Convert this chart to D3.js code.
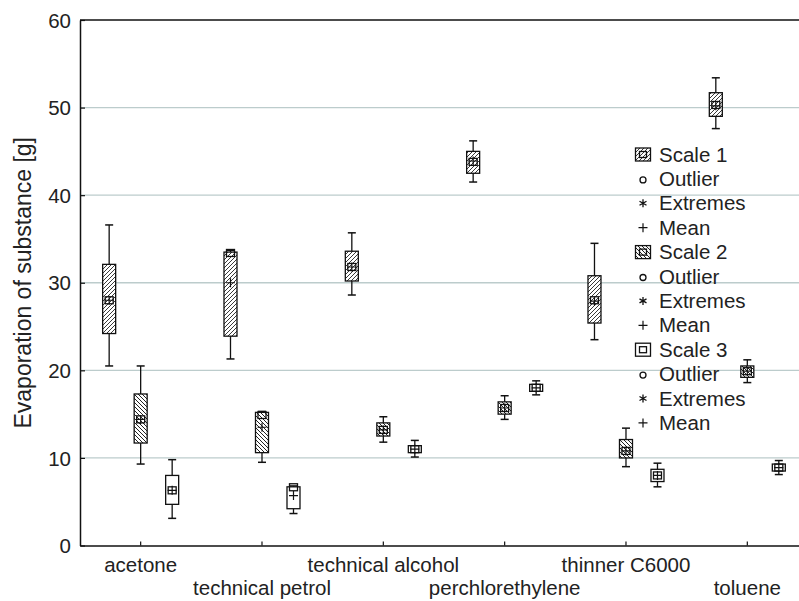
<!DOCTYPE html>
<html><head><meta charset="utf-8">
<script src="https://cdn.jsdelivr.net/npm/d3@7"></script>
<style>
body{margin:0;background:#fff;}
text{font-family:"Liberation Sans",Arial,sans-serif;}
</style></head>
<body><svg id="chart" width="799" height="601"></svg>
<script>
const categories = ["acetone","technical petrol","technical alcohol","perchlorethylene","thinner C6000","toluene"];
const series = ["Scale 1","Scale 2","Scale 3"];
const yTicks = [0,10,20,30,40,50,60];

const scale1Low    = [20.5, 21.3, 28.6, 41.5, 23.5, 47.6];
const scale1Q1     = [24.2, 23.9, 30.2, 42.5, 25.4, 49.0];
const scale1Q3     = [32.1, 33.5, 33.6, 45.0, 30.8, 51.7];
const scale1High   = [36.6, 33.7, 35.7, 46.2, 34.5, 53.4];
const scale1Median = [28.0, 33.4, 31.8, 43.8, 28.0, 50.3];
const scale1Mean   = [28.0, 30.0, 31.8, 43.9, 27.9, 50.2];

const scale2Low    = [9.3, 9.5, 11.8, 14.4, 9.0, 18.6];
const scale2Q1     = [11.7, 10.6, 12.5, 15.0, 10.0, 19.2];
const scale2Q3     = [17.3, 15.2, 14.0, 16.4, 12.1, 20.5];
const scale2High   = [20.5, 15.3, 14.7, 17.1, 13.4, 21.2];
const scale2Median = [14.4, 14.9, 13.2, 15.7, 10.8, 19.9];
const scale2Mean   = [14.4, 13.5, 13.2, 15.7, 10.8, 19.9];

const scale3Low    = [3.1, 3.65, 10.1, 17.2, 6.7, 8.1];
const scale3Q1     = [4.7, 4.2, 10.6, 17.6, 7.3, 8.5];
const scale3Q3     = [8.0, 6.7, 11.4, 18.4, 8.7, 9.3];
const scale3High   = [9.8, 6.8, 12.0, 18.8, 9.4, 9.7];
const scale3Median = [6.3, 6.65, 11.0, 18.0, 8.0, 8.9];
const scale3Mean   = [6.3, 5.7, 11.0, 18.0, 8.0, 8.9];

const legendItems = ["Scale 1","Outlier","Extremes","Mean","Scale 2","Outlier","Extremes","Mean","Scale 3","Outlier","Extremes","Mean"];
const legendKinds = ["box1","outlier","extreme","mean","box2","outlier","extreme","mean","box3","outlier","extreme","mean"];

const seriesStats = [
  {low:scale1Low,q1:scale1Q1,q3:scale1Q3,high:scale1High,median:scale1Median,mean:scale1Mean,fill:"url(#hatch1)"},
  {low:scale2Low,q1:scale2Q1,q3:scale2Q3,high:scale2High,median:scale2Median,mean:scale2Mean,fill:"url(#hatch2)"},
  {low:scale3Low,q1:scale3Q1,q3:scale3Q3,high:scale3High,median:scale3Median,mean:scale3Mean,fill:"#fff"}
];

const svg = d3.select("#chart");
const plotLeft = 80, plotTop = 20, plotBottom = 545.5, bandW = 121.33;
const x = d3.scaleBand().domain(categories).range([plotLeft, plotLeft + bandW*categories.length]).padding(0);
const xs = d3.scaleBand().domain(series).range([-47.25, 47.25]).padding(0);
const y = d3.scaleLinear().domain([0,60]).range([plotBottom, plotTop]);

const defs = svg.append("defs");
const p1 = defs.append("pattern").attr("id","hatch1").attr("patternUnits","userSpaceOnUse").attr("width",4).attr("height",4);
p1.append("rect").attr("width",4).attr("height",4).attr("fill","#fff");
p1.append("path").attr("d","M-1,1 l2,-2 M0,4 l4,-4 M3,5 l2,-2").attr("stroke","#222").attr("stroke-width",0.9);
const p2 = defs.append("pattern").attr("id","hatch2").attr("patternUnits","userSpaceOnUse").attr("width",4).attr("height",4);
p2.append("rect").attr("width",4).attr("height",4).attr("fill","#fff");
p2.append("path").attr("d","M-1,3 l2,2 M0,0 l4,4 M3,-1 l2,2").attr("stroke","#222").attr("stroke-width",1);

// gridlines
svg.append("g").selectAll("line").data(yTicks.filter(t => t > 0 && t < 60)).join("line")
  .attr("x1", plotLeft).attr("x2", 799).attr("y1", d => y(d)).attr("y2", d => y(d))
  .attr("stroke","#bccccc").attr("stroke-width",1.3);

// axes
const yAxis = svg.append("g").attr("transform",`translate(${plotLeft},0)`)
  .call(d3.axisLeft(y).tickValues(yTicks).tickSizeInner(-5).tickSizeOuter(0).tickPadding(9));
yAxis.select(".domain").attr("stroke","#111").attr("stroke-width",1.5);
yAxis.selectAll(".tick line").attr("stroke","#111").attr("stroke-width",1.2);
yAxis.selectAll("text").attr("font-size",20.5).attr("fill","#222").attr("dy","0.35em");

const xAxis = svg.append("g").attr("transform",`translate(0,${plotBottom})`)
  .call(d3.axisBottom(x).tickSizeInner(-4).tickSizeOuter(0).tickFormat(""));
xAxis.select(".domain").attr("stroke","#111").attr("stroke-width",1.5);
xAxis.selectAll(".tick line").attr("stroke","#111").attr("stroke-width",1.2);
svg.append("g").selectAll("text").data(categories).join("text")
  .attr("x", d => x(d) + x.bandwidth()/2)
  .attr("y", (d,i) => i % 2 === 0 ? 572 : 595)
  .attr("text-anchor","middle").attr("font-size",20.5).attr("fill","#222").text(d => d);

// top border
svg.append("line").attr("x1",plotLeft).attr("x2",799).attr("y1",plotTop).attr("y2",plotTop).attr("stroke","#111").attr("stroke-width",1.5);

// y title
svg.append("text").attr("transform",`translate(31,${(plotTop+plotBottom)/2}) rotate(-90)`)
  .attr("text-anchor","middle").attr("font-size",23).attr("fill","#222").text("Evaporation of substance [g]");

// boxes
const bw = 13, cap = 8;
seriesStats.forEach((s, si) => {
  const g = svg.append("g");
  categories.forEach((c, ci) => {
    const cx = x(c) + x.bandwidth()/2 + xs(series[si]) + xs.bandwidth()/2;
    const st = "#111";
    g.append("line").attr("x1",cx).attr("x2",cx).attr("y1",y(s.high[ci])).attr("y2",y(s.low[ci])).attr("stroke",st).attr("stroke-width",1.3);
    [s.high[ci], s.low[ci]].forEach(v => g.append("line").attr("x1",cx-cap/2).attr("x2",cx+cap/2).attr("y1",y(v)).attr("y2",y(v)).attr("stroke",st).attr("stroke-width",1.5));
    g.append("rect").attr("x",cx-bw/2).attr("width",bw).attr("y",y(s.q3[ci])).attr("height",y(s.q1[ci])-y(s.q3[ci]))
      .attr("fill",s.fill).attr("stroke",st).attr("stroke-width",1.3);
    g.append("rect").attr("x",cx-4).attr("width",8).attr("y",y(s.median[ci])-3.5).attr("height",7)
      .attr("fill","none").attr("stroke",st).attr("stroke-width",1.3);
    const my = y(s.mean[ci]);
    g.append("path").attr("d",`M${cx-4.5},${my} h9 M${cx},${my-4.5} v9`).attr("stroke",st).attr("stroke-width",1.2);
  });
});

// legend
const lg = svg.append("g");
const lx = 643, ly0 = 161.5, ldy = 24.4;
legendItems.forEach((t, i) => {
  const by = ly0 + i*ldy;
  const cy = by - 7;
  const k = legendKinds[i];
  if (k.startsWith("box")) {
    const fill = k === "box1" ? "url(#hatch1)" : k === "box2" ? "url(#hatch2)" : "#fff";
    lg.append("rect").attr("x",lx-7.5).attr("y",cy-6.5).attr("width",15).attr("height",13).attr("fill",fill).attr("stroke","#111").attr("stroke-width",1.3);
    lg.append("rect").attr("x",lx-3.5).attr("y",cy-3).attr("width",7).attr("height",6).attr("fill",k==="box3"?"#fff":"none").attr("stroke","#111").attr("stroke-width",1.3);
  } else if (k === "outlier") {
    lg.append("circle").attr("cx",lx).attr("cy",cy+1).attr("r",3).attr("fill","#fff").attr("stroke","#111").attr("stroke-width",1.3);
  } else if (k === "extreme") {
    lg.append("path").attr("d",`M${lx},${cy-4} v8 M${lx-3.5},${cy-2} l7,4 M${lx-3.5},${cy+2} l7,-4`).attr("stroke","#111").attr("stroke-width",1.3);
  } else {
    lg.append("path").attr("d",`M${lx-4.5},${cy} h9 M${lx},${cy-4.5} v9`).attr("stroke","#111").attr("stroke-width",1.2);
  }
  lg.append("text").attr("x",659).attr("y",by).attr("font-size",20.5).attr("fill","#222").text(t);
});
</script></body></html>
